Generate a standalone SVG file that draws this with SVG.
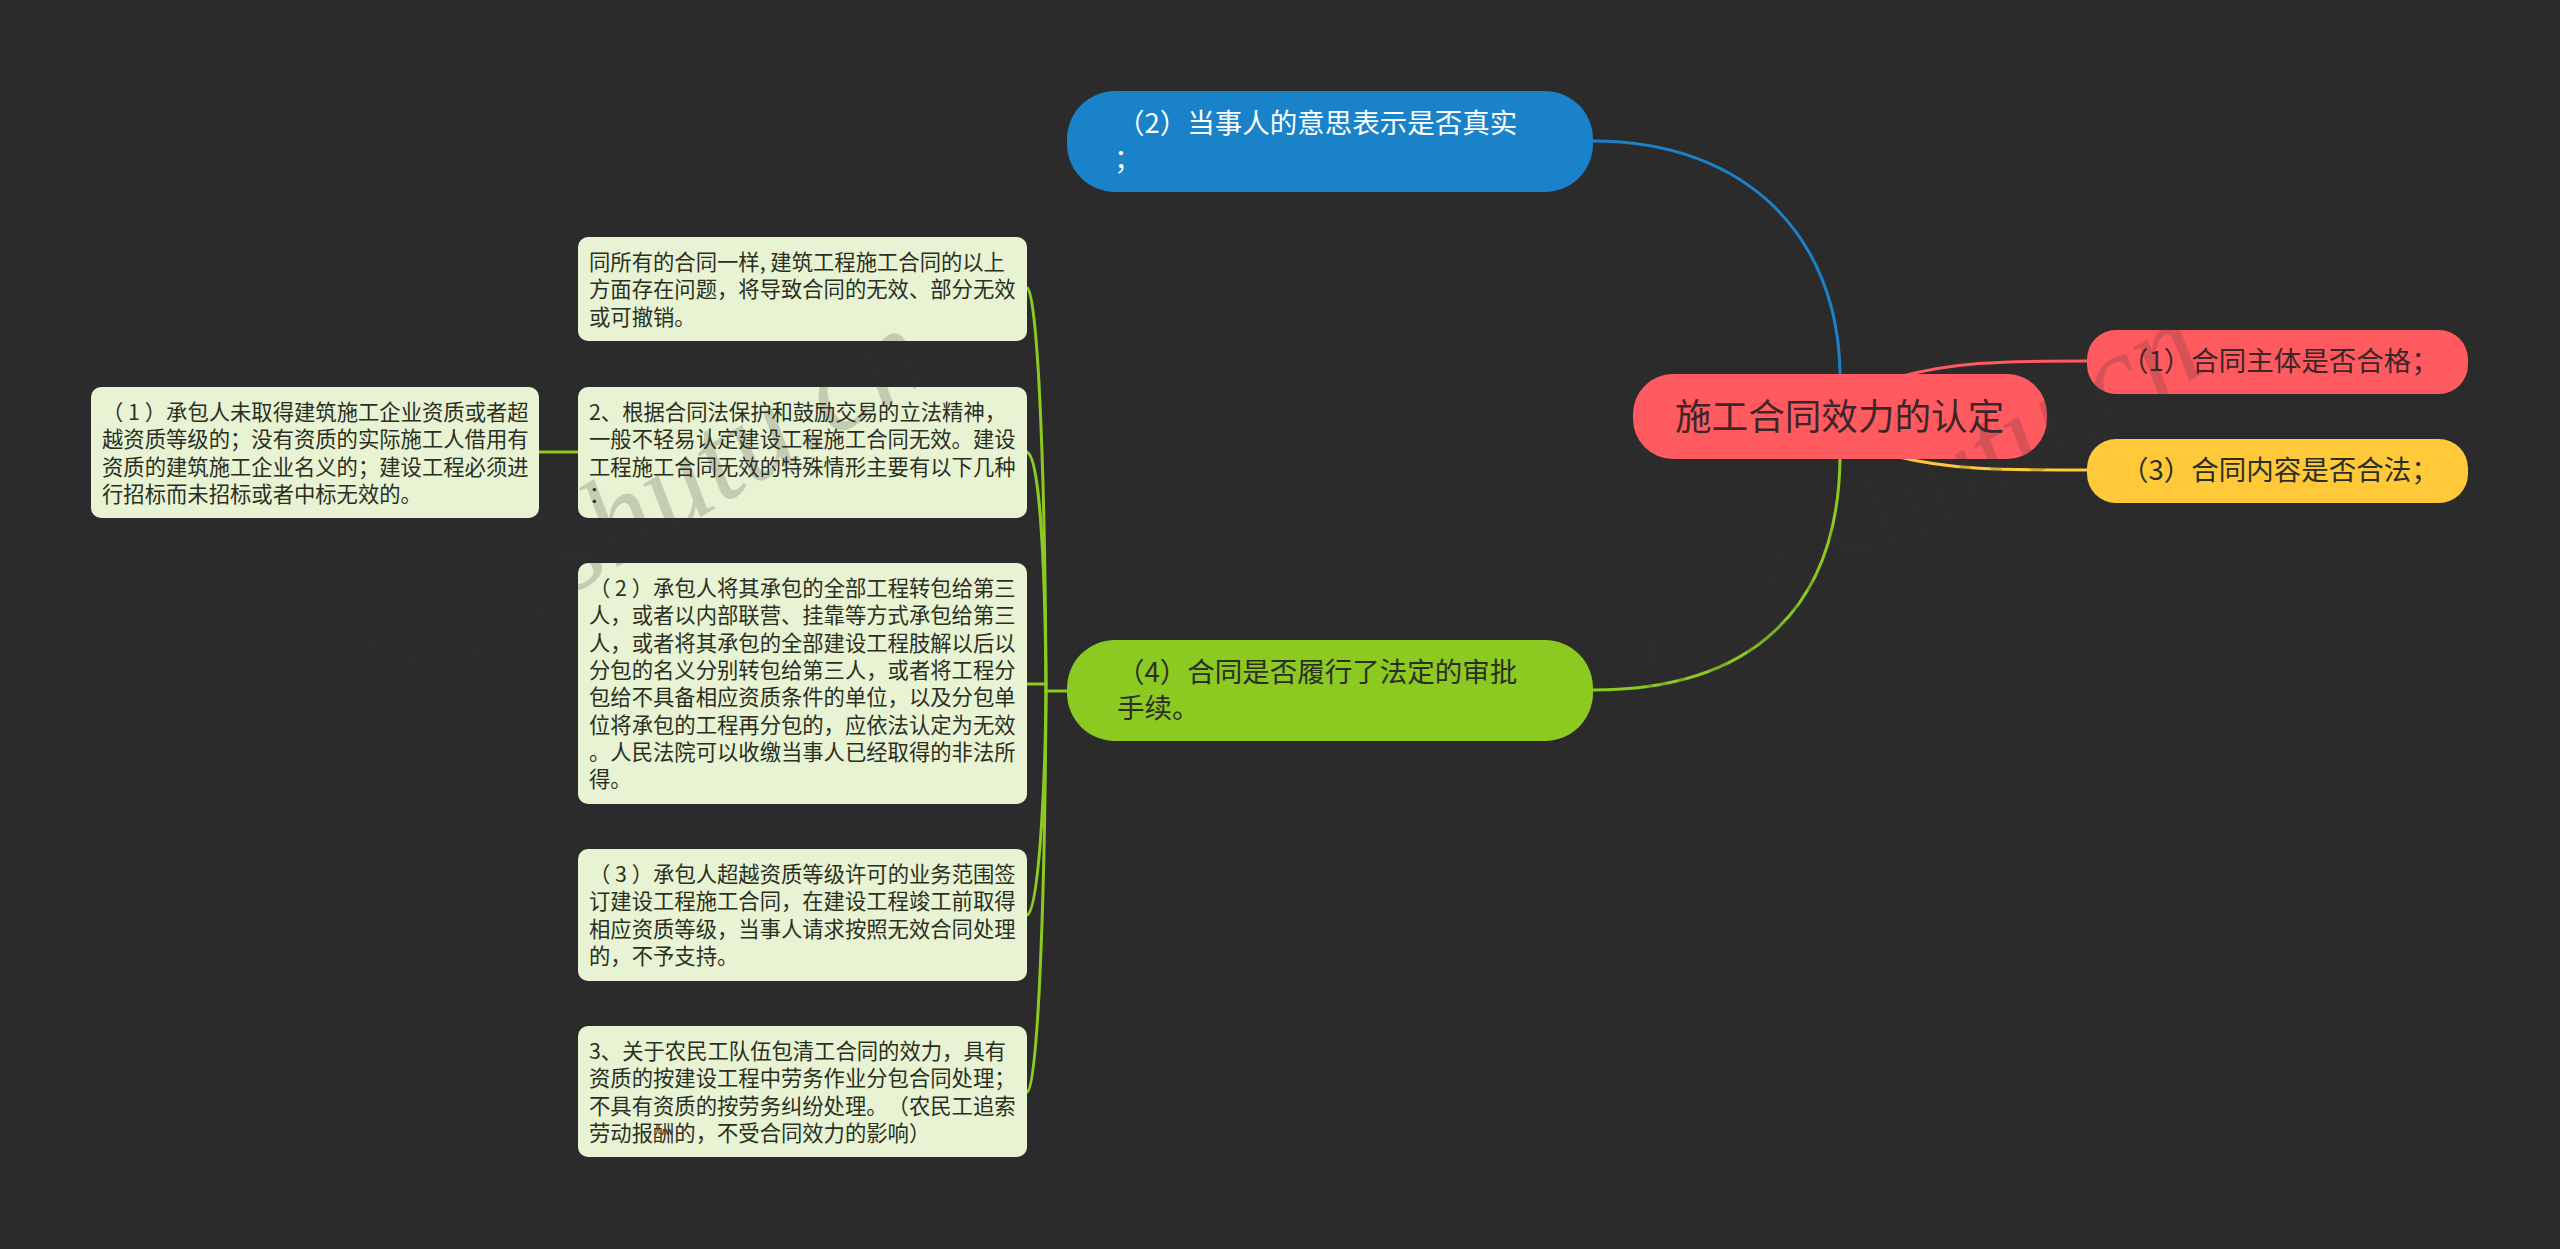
<svg xmlns="http://www.w3.org/2000/svg" width="2560" height="1249" viewBox="0 0 2560 1249">
<style>
text{font-family:"Noto Sans CJK SC","Noto Sans",sans-serif;fill:#2b2f22;text-spacing-trim:space-all}
.card{fill:#e8f3d4}
.ct{font-size:21.33px}
.nt{font-size:27.5px}
.wm{font-style:italic;font-size:104px;fill:#333;fill-opacity:.2}
.wl{font-family:"Liberation Serif",serif;font-size:126px;fill:#333}
.c{fill:none;stroke-linecap:round;stroke-width:3}
.g{stroke:#8cca22}
</style>
<rect width="2560" height="1249" fill="#2b2b2b"/>
<g id="connectors">
<path class="c" stroke="#1a82c8" d="M1593 141C1750 141 1838 240 1840 373"/>
<path class="c g" d="M1593 690C1750 690 1838 610 1840 459"/>
<path class="c" stroke="#ff5a60" d="M2087 361C2000 361 1950 362 1895 378"/>
<path class="c" stroke="#ffc93a" d="M2087 470C2000 470 1950 470 1895 456"/>
<path class="c g" d="M1067 691H1046"/>
<path class="c g" d="M1027 288C1037 292 1045 450 1046 691"/>
<path class="c g" d="M1027 452C1038 456 1045 540 1046 691"/>
<path class="c g" d="M1027 684H1046"/>
<path class="c g" d="M1027 915C1038 911 1045 800 1046 691"/>
<path class="c g" d="M1027 1092C1038 1088 1045 900 1046 691"/>
<path class="c g" d="M539 452H578"/>
</g>
<g id="center"><rect x="1633" y="374" width="414" height="85" rx="40" fill="#ff5a60"/><text x="1675" y="430" font-size="36.6" style="fill:#3d2629">施工合同效力的认定</text></g>
<g id="n1"><rect x="2087" y="330" width="381" height="64" rx="29" fill="#ff5a60"/><text class="nt" x="2121" y="371" style="fill:#3d2629">（1）合同主体是否合格；</text></g>
<g id="n3"><rect x="2087" y="439" width="381" height="64" rx="29" fill="#ffc93a"/><text class="nt" x="2121" y="480">（3）合同内容是否合法；</text></g>
<g id="n2"><rect x="1067" y="91" width="526" height="101" rx="48" fill="#1a82c8"/><text class="nt" style="fill:#fff"><tspan x="1117" y="133">（2）当事人的意思表示是否真实</tspan><tspan x="1114" y="169">；</tspan></text></g>
<g id="n4"><rect x="1067" y="640" width="526" height="101" rx="48" fill="#8cca22"/><text class="nt"><tspan x="1117" y="682">（4）合同是否履行了法定的审批</tspan><tspan x="1117" y="718">手续。</tspan></text></g>
<g id="c1"><rect class="card" x="578" y="237" width="449" height="104" rx="10"/><text class="ct"><tspan x="589" y="270">同所有的合同一样, 建筑工程施工合同的以上</tspan><tspan x="589" y="297.3">方面存在问题，将导致合同的无效、部分无效</tspan><tspan x="589" y="324.6">或可撤销。</tspan></text></g>
<g id="c2"><rect class="card" x="578" y="387" width="449" height="131" rx="10"/><text class="ct"><tspan x="589" y="420">2、根据合同法保护和鼓励交易的立法精神，</tspan><tspan x="589" y="447.3">一般不轻易认定建设工程施工合同无效。建设</tspan><tspan x="589" y="474.6">工程施工合同无效的特殊情形主要有以下几种</tspan><tspan x="589" y="501.9">：</tspan></text></g>
<g id="c3"><rect class="card" x="578" y="563" width="449" height="241" rx="10"/><text class="ct"><tspan x="589" y="596">（ 2 ）承包人将其承包的全部工程转包给第三</tspan><tspan x="589" y="623.3">人，或者以内部联营、挂靠等方式承包给第三</tspan><tspan x="589" y="650.6">人，或者将其承包的全部建设工程肢解以后以</tspan><tspan x="589" y="677.9">分包的名义分别转包给第三人，或者将工程分</tspan><tspan x="589" y="705.2">包给不具备相应资质条件的单位，以及分包单</tspan><tspan x="589" y="732.5">位将承包的工程再分包的，应依法认定为无效</tspan><tspan x="589" y="759.8">。人民法院可以收缴当事人已经取得的非法所</tspan><tspan x="589" y="787.1">得。</tspan></text></g>
<g id="c4"><rect class="card" x="578" y="849" width="449" height="132" rx="10"/><text class="ct"><tspan x="589" y="882">（ 3 ）承包人超越资质等级许可的业务范围签</tspan><tspan x="589" y="909.3">订建设工程施工合同，在建设工程竣工前取得</tspan><tspan x="589" y="936.6">相应资质等级，当事人请求按照无效合同处理</tspan><tspan x="589" y="963.9">的，不予支持。</tspan></text></g>
<g id="c5"><rect class="card" x="578" y="1026" width="449" height="131" rx="10"/><text class="ct"><tspan x="589" y="1059">3、关于农民工队伍包清工合同的效力，具有</tspan><tspan x="589" y="1086.3">资质的按建设工程中劳务作业分包合同处理；</tspan><tspan x="589" y="1113.6">不具有资质的按劳务纠纷处理。（农民工追索</tspan><tspan x="589" y="1140.9">劳动报酬的，不受合同效力的影响）</tspan></text></g>
<g id="c0"><rect class="card" x="91" y="387" width="448" height="131" rx="10"/><text class="ct"><tspan x="102" y="420">（ 1 ）承包人未取得建筑施工企业资质或者超</tspan><tspan x="102" y="447.3">越资质等级的；没有资质的实际施工人借用有</tspan><tspan x="102" y="474.6">资质的建筑施工企业名义的；建设工程必须进</tspan><tspan x="102" y="501.9">行招标而未招标或者中标无效的。</tspan></text></g>
<text class="wm" transform="translate(373 714) rotate(-31)">树图 <tspan class="wl">shutu.cn</tspan></text>
<text class="wm" transform="translate(1649 706) rotate(-31)">树图 <tspan class="wl">shutu.cn</tspan></text>
</svg>
